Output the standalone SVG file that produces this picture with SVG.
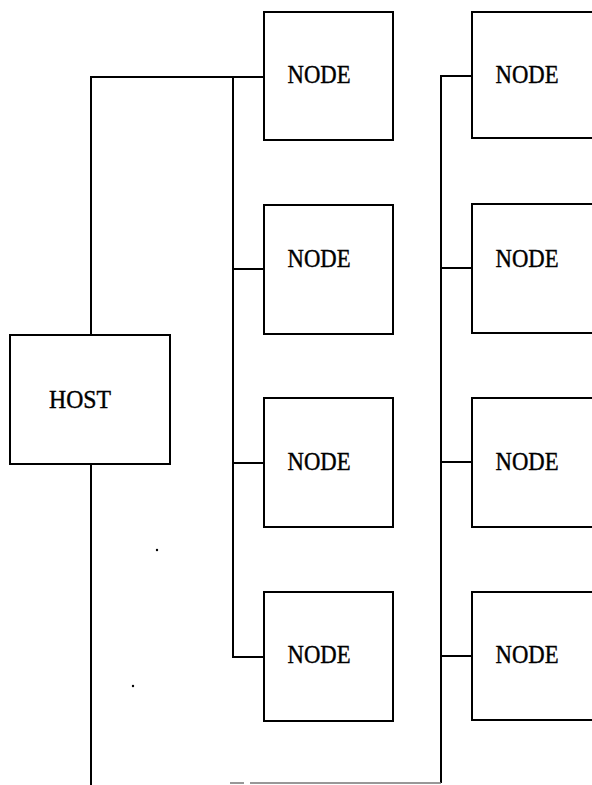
<svg xmlns="http://www.w3.org/2000/svg" width="592" height="785" viewBox="0 0 592 785">
<style>
.box{fill:#fff;stroke:#000;stroke-width:2}
.ln{fill:none;stroke:#000;stroke-width:2}
.t{font-family:"Liberation Serif","Times New Roman",serif;font-size:25px;fill:#000;stroke:#000;stroke-width:0.4;text-anchor:middle}
</style>
<rect width="592" height="785" fill="#fff"/>
<g id="connectors">
<path class="ln" d="M91,335 V77 H264"/>
<path class="ln" d="M91,464 V785"/>
<path class="ln" d="M233,77 V657 H264 M233,269 H264 M233,463 H264"/>
<path class="ln" d="M472,76 H441 V783 M441,268 H472 M441,462 H472 M441,656 H472"/>
<path d="M230,783 H244 M250,783 H441" fill="none" stroke="#777" stroke-width="1.5"/>
<circle cx="157" cy="550" r="1.2" fill="#000"/>
<circle cx="133" cy="686" r="1.2" fill="#000"/>
</g>
<g id="host"><rect class="box" x="10" y="335" width="160" height="129"/><text class="t" x="80" y="408" textLength="62" lengthAdjust="spacingAndGlyphs">HOST</text></g>
<g id="node-l1"><rect class="box" x="264" y="12" width="129" height="128"/><text class="t" x="319" y="83" textLength="63" lengthAdjust="spacingAndGlyphs">NODE</text></g>
<g id="node-l2"><rect class="box" x="264" y="205" width="129" height="129"/><text class="t" x="319" y="267" textLength="63" lengthAdjust="spacingAndGlyphs">NODE</text></g>
<g id="node-l3"><rect class="box" x="264" y="398" width="129" height="129"/><text class="t" x="319" y="470" textLength="63" lengthAdjust="spacingAndGlyphs">NODE</text></g>
<g id="node-l4"><rect class="box" x="264" y="592" width="129" height="129"/><text class="t" x="319" y="663" textLength="63" lengthAdjust="spacingAndGlyphs">NODE</text></g>
<g id="node-r1"><rect class="box" x="472" y="12" width="200" height="126"/><text class="t" x="527" y="83" textLength="63" lengthAdjust="spacingAndGlyphs">NODE</text></g>
<g id="node-r2"><rect class="box" x="472" y="204" width="200" height="129"/><text class="t" x="527" y="267" textLength="63" lengthAdjust="spacingAndGlyphs">NODE</text></g>
<g id="node-r3"><rect class="box" x="472" y="398" width="200" height="129"/><text class="t" x="527" y="470" textLength="63" lengthAdjust="spacingAndGlyphs">NODE</text></g>
<g id="node-r4"><rect class="box" x="472" y="592" width="200" height="128"/><text class="t" x="527" y="663" textLength="63" lengthAdjust="spacingAndGlyphs">NODE</text></g>
</svg>
